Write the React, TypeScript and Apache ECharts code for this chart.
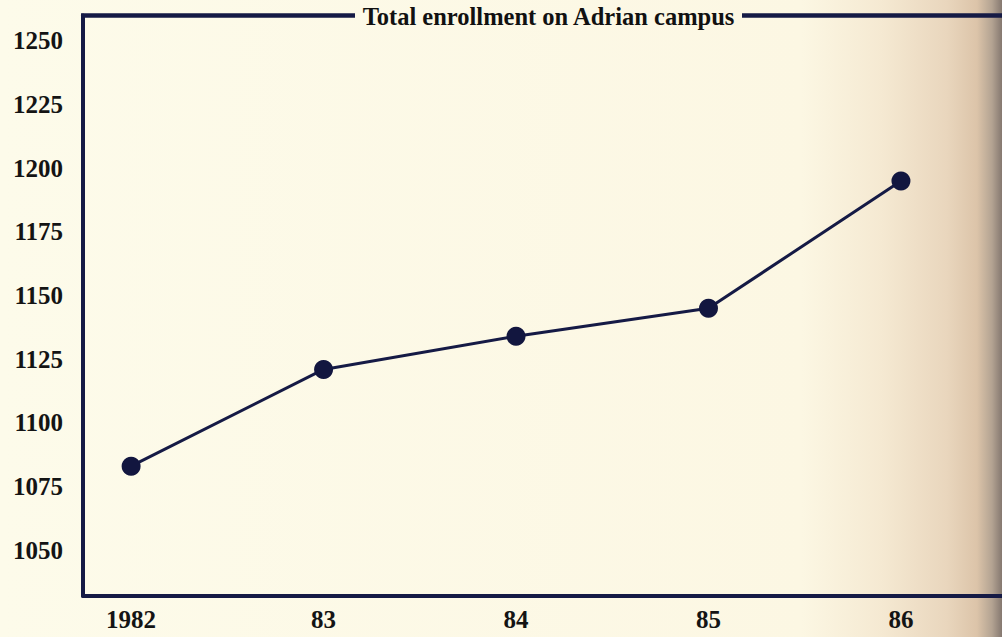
import React, { useEffect, useRef } from "react";
import * as echarts from "echarts";

const title = "Total enrollment on Adrian campus";
const years = [1982, 1983, 1984, 1985, 1986];
const enrollment = [1083, 1121, 1134, 1145, 1195];
const yTickLabels = ["1050", "1075", "1100", "1125", "1150", "1175", "1200", "1225", "1250"];
const xTickLabels: Record<number, string> = { 1982: "1982", 1983: "83", 1984: "84", 1985: "85", 1986: "86" };

const INK = "#151a45";
const FONT = "'Liberation Serif', 'Times New Roman', serif";

export default function App() {
  const ref = useRef<HTMLDivElement>(null);
  useEffect(() => {
    if (!ref.current) return;
    const chart = echarts.init(ref.current, null, { renderer: "svg" });
    chart.setOption({
      animation: false,
      backgroundColor: {
        type: "linear",
        x: 0, y: 0, x2: 1, y2: 0,
        colorStops: [
          { offset: 0, color: "#fdfbea" },
          { offset: 0.8, color: "#fcf7e3" },
          { offset: 0.88, color: "#f5e9d2" },
          { offset: 0.945, color: "#e9d6bd" },
          { offset: 0.975, color: "#dcc4a9" },
          { offset: 0.99, color: "#b3a392" },
          { offset: 1, color: "#857870" },
        ],
      },
      grid: { left: 83, right: 0, top: 15.5, bottom: 41, containLabel: false },
      xAxis: {
        type: "value",
        min: 1981.75,
        max: 1986.525,
        minInterval: 1,
        maxInterval: 1,
        axisLine: { show: true, onZero: false, lineStyle: { color: INK, width: 4 } },
        axisTick: { show: false },
        splitLine: { show: false },
        axisLabel: {
          show: true,
          showMinLabel: false,
          showMaxLabel: false,
          margin: 11,
          color: "#141414",
          fontFamily: FONT,
          fontWeight: "bold",
          fontSize: 25,
          formatter: (v: number) => xTickLabels[Math.round(v * 1000) / 1000] ?? "",
        },
      },
      yAxis: {
        type: "value",
        min: 1032,
        max: 1260,
        minInterval: 25,
        maxInterval: 25,
        axisLine: { show: true, lineStyle: { color: INK, width: 4 } },
        axisTick: { show: false },
        splitLine: { show: false },
        axisLabel: {
          show: true,
          showMinLabel: false,
          showMaxLabel: false,
          margin: 20,
          color: "#141414",
          fontFamily: FONT,
          fontWeight: "bold",
          fontSize: 25,
          formatter: (v: number) => (yTickLabels.includes(String(v)) ? String(v) : ""),
        },
      },
      graphic: [
        { type: "line", shape: { x1: 81, y1: 15.5, x2: 355, y2: 15.5 }, style: { stroke: INK, lineWidth: 4.5 }, z: 10 },
        { type: "line", shape: { x1: 742, y1: 15.5, x2: 1002, y2: 15.5 }, style: { stroke: INK, lineWidth: 4.5 }, z: 10 },
        {
          type: "text",
          x: 548.5,
          y: 16,
          style: {
            text: title,
            align: "center",
            verticalAlign: "middle",
            fill: "#111111",
            font: `bold 24.5px ${FONT}`,
          },
          z: 10,
        },
      ],
      series: [
        {
          type: "line",
          data: years.map((y, i) => [y, enrollment[i]]),
          lineStyle: { color: INK, width: 3 },
          itemStyle: { color: "#12163f" },
          symbol: "circle",
          symbolSize: 19,
          showSymbol: true,
        },
      ],
    });
    return () => chart.dispose();
  }, []);
  return <div ref={ref} style={{ position: "fixed", left: 0, top: 0, width: 1002, height: 637 }} />;
}
